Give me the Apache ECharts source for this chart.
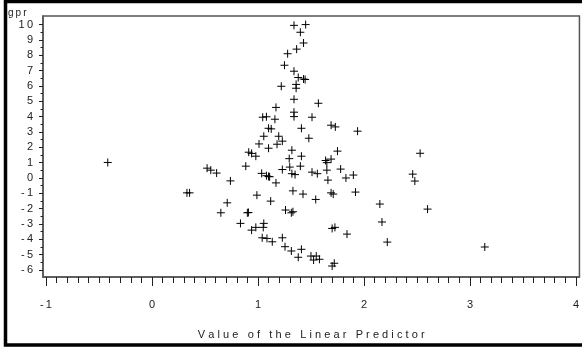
<!DOCTYPE html>
<html><head><meta charset="utf-8">
<script src="https://cdn.jsdelivr.net/npm/echarts@6/dist/echarts.min.js"></script>
<style>html,body{margin:0;padding:0;background:#fff}#c{width:582px;height:349px}</style>
</head><body><div id="c"></div>
<script>
// Data (x = linear predictor, y = gpr)
var predX = [1.34,1.45,1.40,1.43,1.365,1.28,1.25,1.34,1.38,1.43,1.445,1.22,1.36,1.36,1.34,1.57,1.17,1.34,1.34,1.045,1.08,1.16,1.51,1.69,1.73,1.10,1.125,1.41,1.055,1.196,1.48,1.01,1.18,1.23,1.10,0.913,0.94,0.98,1.32,1.295,1.41,1.75,1.638,1.65,1.69,0.885,0.52,0.555,0.61,1.30,1.40,1.23,1.51,1.56,1.78,1.035,1.08,1.11,1.10,1.32,1.35,1.65,1.83,1.90,1.66,1.94,2.53,1.92,2.15,2.17,2.22,1.84,2.46,2.48,2.60,3.14,
  -0.417,0.33,0.355,0.74,0.71,0.65,0.90,0.91,0.835,0.94,0.98,1.055,1.05,1.04,1.085,1.135,0.99,1.12,1.23,1.255,1.315,1.38,1.41,1.50,1.525,1.55,1.58,1.70,1.72,1.33,1.425,1.545,1.69,1.71,1.26,1.315,1.33,1.70,1.726,1.17];
var gprY = [9.95,10.0,9.5,8.8,8.4,8.1,7.35,6.96,6.55,6.45,6.42,5.98,6.1,5.85,5.13,4.87,4.6,4.29,4.0,3.96,3.99,3.83,3.96,3.44,3.33,3.24,3.2,3.24,2.72,2.72,2.59,2.22,2.2,2.4,1.94,1.68,1.6,1.42,1.81,1.26,1.42,1.75,1.14,1.0,1.23,0.77,0.64,0.51,0.32,0.71,0.77,0.55,0.38,0.28,0.58,0.3,0.15,0.08,0.1,0.28,0.22,0.51,0.0,0.19,-0.14,3.05,1.61,-0.92,-1.7,-2.87,-4.18,-3.66,0.25,-0.2,-2.03,-4.5,
  1.01,-0.97,-0.97,-0.19,-1.62,-2.27,-2.27,-2.25,-2.96,-3.4,-3.22,-2.96,-3.22,-3.9,-3.94,-4.16,-1.12,-1.51,-3.9,-4.48,-4.76,-5.17,-4.65,-5.09,-5.35,-5.09,-5.3,-5.74,-5.56,-0.84,-1.05,-1.4,-0.97,-1.05,-2.09,-2.27,-2.2,-3.29,-3.22,-0.32];
var xTicks = [-1,0,1,2,3,4];
var yTicks = [-6,-5,-4,-3,-2,-1,0,1,2,3,4,5,6,7,8,9,10];
var xTitle = 'Value of the Linear Predictor';
var yTitle = 'gpr';

function spaced(s, sep){ return String(s).split('').join(sep || '\u2009'); }
var xMinor = [], yMinor = [];
for (var i = -10; i <= 40; i++) { if (i % 10 !== 0) xMinor.push(i / 10); }
for (var j = -12; j <= 20; j++) { if (j % 2 !== 0) yMinor.push(j / 2); }

var pts = predX.map(function(x, k){ return [x, gprY[k]]; });
var FONT = 'Liberation Sans';
var AX = '#555';
var XMIN = -1.028, XMAX = 4.033, YMIN = -6.456, YMAX = 10.56;

var chart = echarts.init(document.getElementById('c'), null, {renderer: 'canvas'});
chart.setOption({
  animation: false,
  backgroundColor: '#fff',
  grid: {left: 43, right: 1.5, top: 16, bottom: 72, show: true, borderColor: AX, borderWidth: 1.5, backgroundColor: 'transparent'},
  xAxis: [{
    type: 'value', min: XMIN, max: XMAX, position: 'bottom',
    name: spaced(xTitle, '\u2009\u200A'), nameLocation: 'middle', nameGap: 52,
    nameTextStyle: {fontFamily: FONT, fontSize: 11, color: '#222'},
    axisLine: {show: true, onZero: false, lineStyle: {color: AX, width: 1.5}},
    axisTick: {show: true, customValues: xTicks, length: 9, lineStyle: {color: '#222', width: 1}},
    axisLabel: {show: true, customValues: xTicks, margin: 22, fontFamily: FONT, fontSize: 11, color: '#222', formatter: function(v){ return spaced(v); }},
    splitLine: {show: false}
  }, {
    type: 'value', min: XMIN, max: XMAX, position: 'bottom', gridIndex: 0,
    axisLine: {show: false, onZero: false},
    axisTick: {show: true, customValues: xMinor, length: 6, lineStyle: {color: '#222', width: 1}},
    axisLabel: {show: false}, splitLine: {show: false}
  }],
  yAxis: [{
    type: 'value', min: YMIN, max: YMAX, position: 'left',
    axisLine: {show: true, onZero: false, lineStyle: {color: AX, width: 1.5}},
    axisTick: {show: true, customValues: yTicks, length: 4, lineStyle: {color: '#222', width: 1}},
    axisLabel: {show: true, customValues: yTicks, margin: 10, fontFamily: FONT, fontSize: 11, color: '#222', formatter: function(v){ return spaced(v); }},
    splitLine: {show: false}
  }, {
    type: 'value', min: YMIN, max: YMAX, position: 'left', gridIndex: 0,
    axisLine: {show: false, onZero: false},
    axisTick: {show: true, customValues: yMinor, length: 2.5, lineStyle: {color: '#222', width: 1}},
    axisLabel: {show: false}, splitLine: {show: false}
  }],
  graphic: [
    {type: 'rect', silent: true, z: 100, shape: {x: 5.5, y: 1.5, width: 600, height: 343.5}, style: {fill: 'none', stroke: '#000', lineWidth: 3.5}},
    {type: 'text', left: 8, top: 8, style: {text: spaced(yTitle), font: '10px "Liberation Sans"', fill: '#222'}}
  ],
  series: [{
    type: 'scatter', xAxisIndex: 0, yAxisIndex: 0,
    symbol: 'path://M0,5L10,5M5,0L5,10', symbolSize: 8,
    itemStyle: {color: 'transparent', borderColor: '#000', borderWidth: 1, opacity: 1},
    data: pts
  }]
});
</script></body></html>
